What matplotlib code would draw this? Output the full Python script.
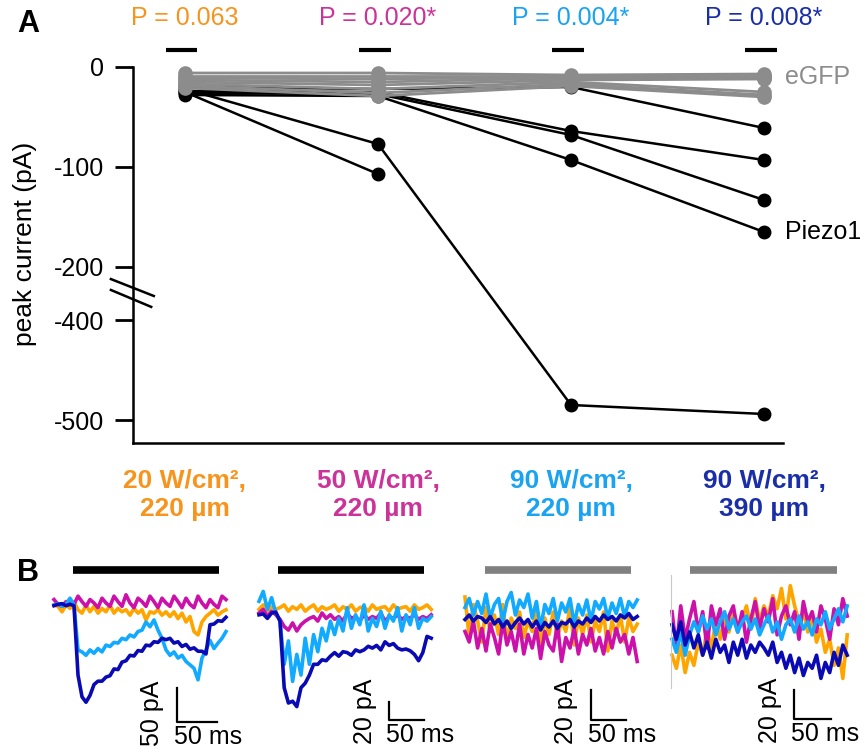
import numpy as np
import matplotlib.pyplot as plt
from matplotlib import rcParams
from matplotlib.lines import Line2D

rcParams['font.family'] = ['Liberation Sans', 'DejaVu Sans']
rcParams['font.size'] = 18
rcParams['axes.unicode_minus'] = False

W, H = 865, 754  # pixels at dpi 100

# ---------------- Panel A data ----------------
conditions = ['20 W/cm²,\n220 µm', '50 W/cm²,\n220 µm',
              '90 W/cm²,\n220 µm', '90 W/cm²,\n390 µm']
p_labels = ['P = 0.063', 'P = 0.020*', 'P = 0.004*', 'P = 0.008*']
cond_colors = ['#F7941D', '#CC3399', '#1AA3F0', '#1A2EA8']

# peak current (pA) of each cell at the 4 conditions
piezo_cells = [
    [-22, -77, -485, -494],
    [-25, -107, np.nan, np.nan],
    [-20, -22, -20, -61],
    [-24, -25, -64, -93],
    [-26, -27, -68, -133],
    [-28, -29, -93, -165],
]
egfp_cells = [
    [-6, -6, -8, -7],
    [-9, -9, -9, -9],
    [-11, -12, -10, -10],
    [-13, -15, -11, -11],
    [-15, -18, -13, -12],
    [-17, -22, -15, -25],
    [-19, -26, -17, -28],
    [-21, -29, -19, -30],
]
yticks = [0, -100, -200, -400, -500]

# ---------------- Panel B data (pA, sampled every dt ms) ----------------
trace_colors = ['#FFA500', '#CC11AA', '#11AAFF', '#0A0AB4']  # orange, magenta, light blue, navy

dt = [5, 6, 6, 6]
stim_on = [24, 27, 29, 25]
stim_off = [206, 236, 237, 226]
stim_colors = ['black', 'black', '#808080', '#808080']
scale_pA = [50, 20, 20, 20]
scale_ms = 50

p1_orange = [0, -2, -10, 0, -5, 5, -7, -12, 0, -10, -2, -12, -5, -10, 0, -12, -5, -10, -7, -15, -5, -12,
             -7, -22, -10, -12, -7, -15, -10, -17, -10, -20, -12, -25, -17, -39, -44, -25, -17, -12, -7, -15, -10, -7]
p1_magenta = [8, 1, -2, 5, 3, 1, 13, 5, -2, 8, 3, -4, 10, 3, -2, 13, 5, -2, 15, 3, -4, 10, 5, -2,
              13, 5, -4, 10, 3, -2, 13, 5, -4, 10, 1, -4, 13, 3, -4, 8, 1, -4, 13, 8]
p1_lightblue = [0, 2, -2, 1, 10, 0, -66, -69, -74, -66, -71, -64, -69, -59, -61, -55, -56, -49, -51, -44, -47,
                -39, -37, -25, -32, -22, -37, -49, -66, -74, -69, -78, -74, -83, -88, -93, -110, -78, -66, -52,
                -64, -56, -49, -39]
p1_navy = [-1, 1, 2, -1, 1, -1, -103, -135, -143, -133, -117, -112, -112, -106, -104, -94, -95, -84, -82, -74,
           -75, -67, -68, -59, -60, -54, -55, -49, -51, -49, -56, -54, -61, -58, -65, -63, -68, -68, -72, -29,
           -28, -23, -24, -18]

p2_orange = [4, 9, 2, 7, 4, 6, 9, 2, 7, 4, 9, 2, 6, 9, 2, 7, 4, 6, 9, 2, 7, 4, 9, 2, 6, 7, 2, 9, 4, 6, 7,
             2, 9, 4, 6, 7, 2, 9, 4, 6, 9, 4]
p2_magenta = [0, 4, -4, 2, -2, -7, -15, -19, -11, -20, -13, -9, -6, -4, -9, 0, -6, -2, -7, -4, -9, 0, -6,
              -4, -9, -2, -7, -4, -6, 0, -9, -4, -6, -2, -7, -4, -6, -2, -7, -4, -6, -2]
p2_lightblue = [13, 24, 4, 17, 0, -9, -57, -31, -76, -46, -69, -28, -57, -24, -43, -17, -31, -9, -24, -6, -20,
                6, -17, -2, -13, 9, -20, -6, -15, 2, -17, -2, -9, 6, -20, -2, -13, 6, -17, -6, -9, -4]
p2_navy = [-2, -1, -6, 0, 1, -9, -83, -100, -98, -104, -83, -78, -69, -57, -57, -52, -53, -48, -44, -48, -43,
           -44, -47, -41, -43, -41, -37, -39, -36, -41, -32, -36, -34, -39, -41, -40, -42, -46, -53, -44, -26, -28]

p3_orange = [14, -13, 9, -2, -16, 7, -9, 2, -11, 9, -16, 0, -7, 4, -13, -2, -9, 7, -20, 0, -11, 4, -13, -2,
             -9, 7, -18, 0, -11, 2, -16, -2, -9, 4, -22, -2, -11, 2, -16, 0, -9, -4]
p3_magenta = [-9, -16, -2, -20, -7, -22, -4, -13, -24, -2, -18, -9, -22, -4, -24, -11, -20, -7, -27, -9, -18,
              -22, -4, -29, -13, -20, -7, -24, -11, -18, -7, -22, -13, -24, -9, -20, -7, -16, -11, -24, -13, -29]
p3_lightblue = [7, 13, 2, 11, 3, 16, 0, 9, 13, -2, 11, 17, 2, 12, 7, 16, 0, 11, -7, 9, 3, 13, -2, 10, 4, 13,
                -4, 9, 2, 12, -2, 11, 6, 13, 0, 10, 3, 13, 1, 11, 7, 12]
p3_navy = [-1, 2, -2, 1, 0, -3, 1, -4, -1, -6, -2, -7, -3, 0, -4, -1, -6, -2, -8, -3, -6, -2, -7, -3, -4, -1,
           -6, -2, -4, 0, -3, 1, -2, 2, -1, 1, -2, 2, 0, 3, -1, 1]

p4_orange = [-16, -25, -9, -28, -14, -23, -7, -16, 2, -11, 7, -5, 11, 0, 14, 5, 9, 18, 2, 23, 7, 18, 11, 25,
             16, 30, 9, 32, 18, 7, 14, 0, 9, -7, 2, -14, -5, -23, -11, -32, -2]
p4_magenta = [14, -11, 18, -5, 9, 21, 0, 14, -11, 18, 5, 16, -5, 11, 18, 0, 14, -7, 9, 21, 2, 16, 7, 23, -2,
              11, 18, 5, 14, -5, 21, 7, 14, 0, 18, 9, -5, 16, 5, 23, 11]
p4_lightblue = [-5, -14, 0, -16, -2, 7, 0, 11, 2, 9, -2, 7, 14, 2, 9, 0, 7, 11, 2, 9, -2, 5, 11, 0, 7, -5, 5,
                9, 0, 11, 2, 7, -2, 9, 5, 14, 2, 9, 16, 7, 18]
p4_navy = [5, -5, 7, -9, 0, -11, -2, -16, -7, -18, -5, -14, -9, -21, -7, -16, -5, -18, -9, -14, -7, -11, -16,
           -7, -21, -14, -25, -16, -28, -18, -30, -21, -25, -16, -32, -21, -28, -14, -23, -9, -16]

b_traces = [
    [p1_orange, p1_magenta, p1_lightblue, p1_navy],
    [p2_orange, p2_magenta, p2_lightblue, p2_navy],
    [p3_orange, p3_magenta, p3_lightblue, p3_navy],
    [p4_orange, p4_magenta, p4_lightblue, p4_navy],
]

fig = plt.figure(figsize=(W / 100, H / 100), dpi=100)

# ---------------- Panel A ----------------
GAP = 53  # axis units used for the -200 .. -400 break


def squash(y):
    y = np.asarray(y, dtype=float)
    mid = -200 + (y + 200) * GAP / 200
    return np.where(y >= -200, y, np.where(y <= -400, y + 200 - GAP, mid))


def unsquash(z):
    z = np.asarray(z, dtype=float)
    mid = -200 + (z + 200) * 200 / GAP
    return np.where(z >= -200, z, np.where(z <= -200 - GAP, z - 200 + GAP, mid))


ax = fig.add_axes([133 / W, (H - 443) / H, 650 / W, 376 / H])
ax.set_yscale('function', functions=(squash, unsquash))
x = np.arange(len(conditions))

for cell in piezo_cells:
    ax.plot(x, cell, color='black', lw=1.8, marker='o', ms=9, clip_on=False, zorder=3)
for cell in egfp_cells:
    ax.plot(x, cell, color='#8C8C8C', lw=2.0, marker='o', ms=9.5, clip_on=False, zorder=4)

ax.set_xlim(-0.269, 3.098)
ax.set_ylim(-523, 0)
ax.set_yticks(yticks)
ax.set_yticklabels([str(v) for v in yticks])
ax.set_xticks([])
ax.tick_params(axis='y', length=13, width=2, pad=8, labelsize=18)
for s in ['top', 'right']:
    ax.spines[s].set_visible(False)
for s in ['left', 'bottom']:
    ax.spines[s].set_linewidth(1.8)

ax.set_ylabel('peak current (pA)', fontsize=19)
ax.yaxis.set_label_coords(-0.148, 0.529)

# axis break marks
ax.plot([-0.034, 0.032], [0.436, 0.391], color='black', lw=1.8, transform=ax.transAxes, clip_on=False)
ax.plot([-0.034, 0.028], [0.407, 0.362], color='black', lw=1.8, transform=ax.transAxes, clip_on=False)

tr = ax.get_xaxis_transform()
for i in range(len(conditions)):
    ax.text(i, 1.130, p_labels[i], color=cond_colors[i], ha='center', va='center',
            fontsize=18, transform=tr)
    ax.plot([i - 0.1, i + 0.065], [1.045, 1.045], color='black', lw=3, transform=tr,
            clip_on=False, solid_capstyle='butt')
    ax.text(i, -0.138, conditions[i], color=cond_colors[i], ha='center', va='center',
            fontsize=19, fontweight='bold', linespacing=1.2, transform=tr)

ax.text(3.11, np.mean([c[-1] for c in egfp_cells[:5]]), 'eGFP', color='#8C8C8C',
        ha='left', va='center', fontsize=18)
ax.text(3.11, piezo_cells[-1][-1], 'Piezo1', color='black', ha='left', va='center', fontsize=18)

fig.text(17 / W, 1 - 24 / H, 'A', fontsize=22, fontweight='bold', va='center', ha='left')
fig.text(17 / W, 1 - 573 / H, 'B', fontsize=22, fontweight='bold', va='center', ha='left')

# ---------------- Panel B ----------------
# trace start x (px), px per ms, px per pA, baseline y (px), box left, box right (px)
b_layout = [
    (54, 0.80, 0.68, 605, 45, 252),
    (259, 0.70, 0.90, 613, 252, 458),
    (465, 0.70, 1.50, 618, 458, 664),
    (672, 0.73, 1.45, 632, 664, 865),
]
# corner of the scale bar (px)
scale_corner = [(177, 722), (389, 720), (591, 720), (794, 719)]

for k in range(4):
    x0, sx, sy, y0, bl, br = b_layout[k]
    bx = fig.add_axes([bl / W, 0, (br - bl) / W, (754 - 555) / H])
    bx.set_xlim((bl - x0) / sx, (br - x0) / sx)
    bx.set_ylim((y0 - 754) / sy, (y0 - 555) / sy)
    bx.axis('off')

    for vals, col in zip(b_traces[k], trace_colors):
        t = np.arange(len(vals)) * dt[k]
        bx.plot(t, vals, color=col, lw=2.6, solid_joinstyle='round', clip_on=False)

    bar_y = (y0 - 570) / sy
    bx.plot([stim_on[k], stim_off[k]], [bar_y, bar_y], color=stim_colors[k], lw=5.5,
            solid_capstyle='butt', clip_on=False)

    cx, cy = scale_corner[k]
    tc = (cx - x0) / sx
    pc = (y0 - cy) / sy
    bx.plot([tc, tc, tc + scale_ms], [pc + scale_pA[k], pc, pc], color='black', lw=1.6,
            clip_on=False)
    bx.annotate(f'{scale_pA[k]} pA', xy=(tc, pc), xytext=(-9, -17), textcoords='offset points',
                rotation=90, ha='right', va='bottom', fontsize=18)
    bx.annotate(f'{scale_ms} ms', xy=(tc, pc), xytext=(-2, -2), textcoords='offset points',
                ha='left', va='top', fontsize=18)

fig.add_artist(Line2D([671 / W, 671 / W], [1 - 575 / H, 1 - 688 / H], color='#C8C8C8', lw=0.8))

fig.savefig('out.png', dpi=100)
